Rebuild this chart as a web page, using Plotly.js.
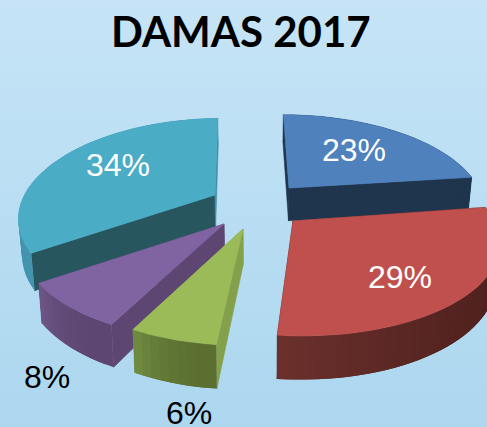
<!DOCTYPE html>
<html><head><meta charset="utf-8">
<script src="https://cdn.plot.ly/plotly-3.0.1.min.js"></script>
<style>
html,body{margin:0;padding:0;width:487px;height:427px;overflow:hidden;background:linear-gradient(180deg,#c6e4f6 0%,#acd7ef 100%);}
#chart{width:487px;height:427px;}
</style></head><body><div id="chart"></div>
<script>
const chartTitle = 'DAMAS 2017';
const percentValues = [23, 29, 6, 8, 34];
const topColors = ['#4f81bd', '#c0504d', '#9bbb59', '#8064a2', '#4bacc6'];
const startFaceColors = ['#1f344d', '#4e201d', '#84a04b', '#5d4672', '#27565f'];
const endFaceColors = ['#1f344d', '#4e201d', '#84a04b', '#5d4672', '#4390a8'];
const rimFromColors = ['#1f344d', '#4c1f1c', '#5b6f31', '#5d4672', '#4494ae'];
const rimToColors = ['#1f344d', '#6b302c', '#6f8a40', '#6d5585', '#4494ae'];
const tipX = [289, 293, 243, 224, 215];
const tipY = [188, 221, 229, 224, 195];
const sliceRadiusX = [0.96, 0.95, 0.90, 0.92, 0.95];
const sliceRadiusY = [1.03, 0.94, 0.92, 0.93, 1.05];
const angleShiftDeg = [0, -1.5, -1.5, -2.3, -1.5];
const labelX = [354, 400, 189, 47, 118];
const labelY = [150, 277, 413, 377, 165];
const labelColors = ['#fff', '#fff', '#000', '#000', '#fff'];
const drawOrder = [4, 0, 3, 2, 1];

const VX = 255, VY = 205, A = 205, B = 92, K = 0.2, DEPTH = 34;
function project(X, Y, z) {
  const s = 1 / (1 + K * Y);
  let x = VX + X * A * s, y = VY - Y * B * s;
  if (z) { x = VX + (x - VX) * 0.985; y += DEPTH * s; }
  return [x, y];
}
function unproject(px, py) {
  const d = VY - py;
  const Y = d / (B - K * d);
  const s = 1 / (1 + K * Y);
  return [(px - VX) / (A * s), Y];
}
function hex2(c) { return [1, 3, 5].map(i => parseInt(c.slice(i, i + 2), 16)); }
function mix(a, b, t) {
  const p = hex2(a), q = hex2(b);
  return 'rgb(' + p.map((v, i) => Math.round(v + (q[i] - v) * t)).join(',') + ')';
}
function poly(pts, color) {
  return {
    type: 'scatter', mode: 'lines', x: pts.map(p => p[0]), y: pts.map(p => p[1]),
    fill: 'toself', fillcolor: color, line: { color: color, width: 0.6 },
    hoverinfo: 'skip', showlegend: false
  };
}
const total = percentValues.reduce((a, b) => a + b, 0);
const startAngles = [];
percentValues.reduce((acc, v, i) => { startAngles[i] = acc; return acc + v; }, 0);

const traces = [];
drawOrder.forEach(i => {
  const shift = angleShiftDeg[i] * Math.PI / 180;
  const a0 = startAngles[i] / total * 2 * Math.PI + shift;
  const a1 = (startAngles[i] + percentValues[i]) / total * 2 * Math.PI + shift;
  const [tx, ty] = unproject(tipX[i], tipY[i]);
  const pt = (a, z) => project(tx + sliceRadiusX[i] * Math.sin(a), ty + sliceRadiusY[i] * Math.cos(a), z);
  const tip = z => project(tx, ty, z);
  const steps = Math.max(8, Math.round(percentValues[i] * 1.5));
  const ang = k => a0 + (a1 - a0) * k / steps;
  traces.push(poly([tip(0), pt(a0, 0), pt(a0, 1), tip(1), tip(0)], startFaceColors[i]));
  traces.push(poly([tip(0), pt(a1, 0), pt(a1, 1), tip(1), tip(0)], endFaceColors[i]));
  for (let k = 0; k < steps; k++) {
    const color = mix(rimFromColors[i], rimToColors[i], Math.pow(k / (steps - 1), 2.2));
    const upper = [], lower = [];
    for (let m = k; m <= Math.min(k + 2, steps); m++) { upper.push(pt(ang(m), 0)); lower.unshift(pt(ang(m), 1)); }
    const quad = upper.concat(lower); quad.push(upper[0]);
    const tr = poly(quad, color); tr.line.width = 0;
    traces.push(tr);
  }
  const top = [tip(0)];
  for (let k = 0; k <= steps; k++) top.push(pt(ang(k), 0));
  top.push(tip(0));
  traces.push(poly(top, topColors[i]));
});

const annotations = percentValues.map((v, i) => ({
  x: labelX[i], y: labelY[i], xref: 'x', yref: 'y', text: v + '%', showarrow: false,
  font: { family: 'Liberation Sans, Arial, sans-serif', size: 32, color: labelColors[i] }
}));

Plotly.newPlot('chart', traces, {
  width: 487, height: 427, margin: { l: 0, r: 0, t: 0, b: 0 },
  paper_bgcolor: 'rgba(0,0,0,0)', plot_bgcolor: 'rgba(0,0,0,0)',
  title: { text: '<b>' + chartTitle + '</b>', x: 0.4945, xanchor: 'center', y: 0.925, yanchor: 'middle',
    font: { family: 'Lato, sans-serif', size: 42, color: '#000' } },
  xaxis: { range: [0, 487], visible: false, fixedrange: true },
  yaxis: { range: [427, 0], visible: false, fixedrange: true },
  annotations: annotations, showlegend: false
}, { displayModeBar: false, staticPlot: true });
</script></body></html>
